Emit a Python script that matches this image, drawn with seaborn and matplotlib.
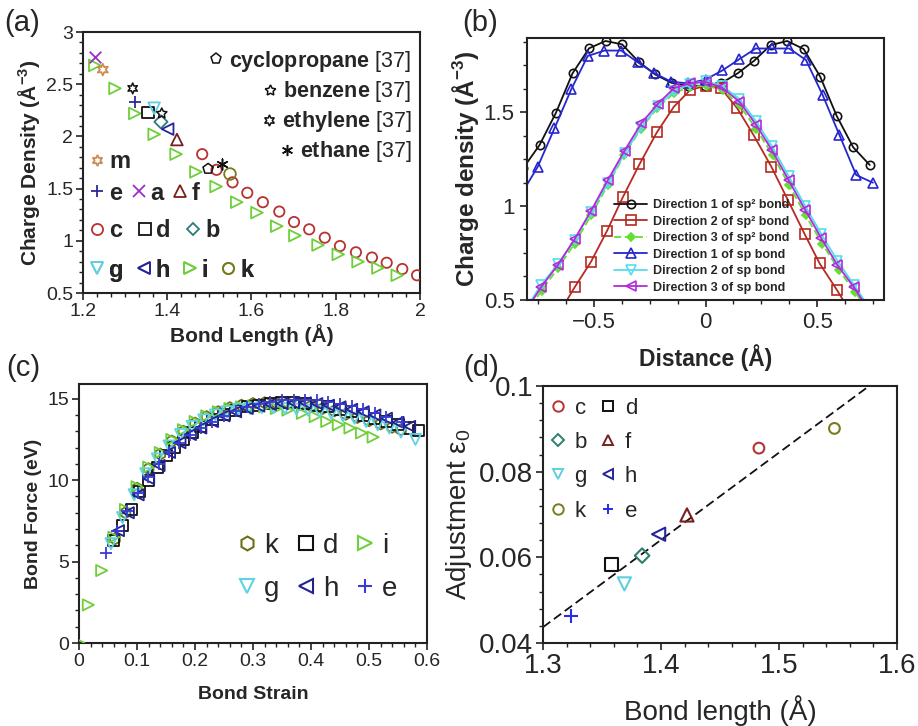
import numpy as np
import matplotlib
matplotlib.use("Agg")
import matplotlib.pyplot as plt
import seaborn as sns
from matplotlib.lines import Line2D
from matplotlib.markers import MarkerStyle
from matplotlib.ticker import MultipleLocator, FuncFormatter

sns.set_style("ticks")
plt.rcParams['font.family'] = ['Liberation Sans', 'DejaVu Sans']
plt.rcParams['mathtext.fontset'] = 'custom'
plt.rcParams['mathtext.rm'] = 'Liberation Sans'
plt.rcParams['mathtext.it'] = 'Liberation Sans:italic'
plt.rcParams['mathtext.bf'] = 'Liberation Sans:bold'
plt.rcParams['mathtext.default'] = 'regular'

# ---------------- data: panel (a) ----------------
i_len = [1.228, 1.276, 1.323, 1.369, 1.421, 1.468, 1.516, 1.565, 1.613, 1.660,
         1.703, 1.758, 1.806, 1.853, 1.900, 1.946]
i_rho = [2.68, 2.46, 2.22, 2.02, 1.83, 1.66, 1.52, 1.37, 1.27, 1.14,
         1.05, 0.96, 0.87, 0.80, 0.74, 0.67]
c_len = [1.483, 1.517, 1.555, 1.590, 1.627, 1.666, 1.701, 1.737, 1.774, 1.810,
         1.848, 1.886, 1.921, 1.958, 1.993]
c_rho = [1.83, 1.68, 1.56, 1.46, 1.37, 1.28, 1.18, 1.11, 1.03, 0.95,
         0.89, 0.84, 0.79, 0.73, 0.67]
single_names = ['a', 'm', 'e', 'd', 'g', 'b', 'h', 'f', 'k']
single_len = [1.228, 1.247, 1.323, 1.355, 1.369, 1.385, 1.401, 1.423, 1.549]
single_rho = [2.76, 2.64, 2.33, 2.23, 2.27, 2.14, 2.07, 1.97, 1.64]
ref_names = ['cyclopropane', 'benzene', 'ethylene', 'ethane']
ref_len = [1.497, 1.387, 1.318, 1.530]
ref_rho = [1.69, 2.22, 2.46, 1.74]

# ---------------- data: panel (b) ----------------
sp2_d1_x = [-0.818, -0.744, -0.670, -0.596, -0.522, -0.448, -0.374, -0.300, -0.226, -0.152, -0.078,
            -0.004, 0.070, 0.144, 0.218, 0.292, 0.366, 0.440, 0.514, 0.588, 0.662, 0.736]
sp2_d1_y = [1.20, 1.324, 1.497, 1.706, 1.839, 1.878, 1.860, 1.768, 1.700, 1.655, 1.640,
            1.640, 1.653, 1.706, 1.773, 1.856, 1.878, 1.835, 1.688, 1.479, 1.312, 1.218]
sp2_d2_x = [-0.661, -0.587, -0.513, -0.441, -0.371, -0.296, -0.218, -0.142, -0.069, 0.000,
            0.070, 0.142, 0.215, 0.295, 0.369, 0.444, 0.511, 0.589, 0.663]
sp2_d2_y = [0.42, 0.567, 0.704, 0.869, 1.046, 1.222, 1.392, 1.528, 1.617, 1.640,
            1.626, 1.520, 1.378, 1.209, 1.032, 0.851, 0.695, 0.553, 0.41]
sp2_d3_x = [-0.809, -0.735, -0.661, -0.587, -0.513, -0.439, -0.365, -0.291, -0.217, -0.143, -0.069,
            0.005, 0.079, 0.153, 0.227, 0.301, 0.375, 0.449, 0.523, 0.597, 0.671, 0.745]
sp2_d3_y = [0.42, 0.55, 0.67, 0.80, 0.95, 1.11, 1.27, 1.41, 1.52, 1.60, 1.635,
            1.64, 1.615, 1.535, 1.41, 1.27, 1.11, 0.95, 0.80, 0.66, 0.54, 0.42]
sp_d1_x = [-0.827, -0.752, -0.677, -0.602, -0.528, -0.453, -0.378, -0.303, -0.229, -0.154, -0.077,
           0.000, 0.075, 0.150, 0.225, 0.300, 0.375, 0.450, 0.525, 0.600, 0.675, 0.750]
sp_d1_y = [1.06, 1.209, 1.413, 1.620, 1.798, 1.827, 1.827, 1.764, 1.706, 1.662, 1.652,
           1.673, 1.721, 1.780, 1.838, 1.838, 1.838, 1.777, 1.590, 1.378, 1.165, 1.124]
sp_d2_x = [-0.812, -0.737, -0.662, -0.587, -0.513, -0.438, -0.363, -0.288, -0.214, -0.142, -0.070,
           0.000, 0.073, 0.152, 0.227, 0.297, 0.372, 0.447, 0.519, 0.591, 0.665, 0.740]
sp_d2_y = [0.44, 0.58, 0.69, 0.82, 0.97, 1.12, 1.28, 1.42, 1.53, 1.61, 1.65,
           1.665, 1.64, 1.57, 1.45, 1.32, 1.16, 1.00, 0.85, 0.71, 0.58, 0.45]
sp_d3_x = [-0.812, -0.737, -0.662, -0.587, -0.513, -0.438, -0.363, -0.288, -0.214, -0.142, -0.070,
           0.000, 0.073, 0.152, 0.227, 0.297, 0.372, 0.447, 0.519, 0.591, 0.665, 0.740]
sp_d3_y = [0.43, 0.568, 0.686, 0.823, 0.975, 1.138, 1.294, 1.440, 1.543, 1.626, 1.653,
           1.660, 1.631, 1.555, 1.431, 1.298, 1.138, 0.979, 0.828, 0.686, 0.568, 0.43]
b_labels = ['Direction 1 of sp\u00b2 bond', 'Direction 2 of sp\u00b2 bond', 'Direction 3 of sp\u00b2 bond',
            'Direction 1 of sp bond', 'Direction 2 of sp bond', 'Direction 3 of sp bond']

# ---------------- data: panel (c) ----------------
k_s = [0.062, 0.08, 0.10, 0.12, 0.14, 0.16, 0.18, 0.20, 0.22, 0.24, 0.26, 0.28, 0.30, 0.32, 0.34,
       0.36, 0.38, 0.40, 0.42, 0.44, 0.46, 0.48, 0.50, 0.52, 0.54, 0.555]
k_F = [6.4, 8.0, 9.5, 10.7, 11.6, 12.4, 13.0, 13.5, 13.9, 14.2, 14.45, 14.6, 14.7, 14.75, 14.75,
       14.7, 14.65, 14.55, 14.4, 14.25, 14.05, 13.85, 13.65, 13.45, 13.25, 13.1]
d_s = [0.060, 0.075, 0.090, 0.105, 0.120, 0.135, 0.150, 0.165, 0.180, 0.195, 0.210, 0.230, 0.250,
       0.270, 0.290, 0.310, 0.330, 0.350, 0.370, 0.390, 0.410, 0.430, 0.450, 0.470, 0.490, 0.510,
       0.530, 0.550, 0.570, 0.585]
d_F = [6.3, 7.2, 8.2, 9.3, 10.0, 10.8, 11.5, 12.0, 12.5, 12.9, 13.3, 13.7, 14.05,
       14.3, 14.5, 14.6, 14.7, 14.75, 14.75, 14.7, 14.6, 14.5, 14.35, 14.2, 14.0, 13.8,
       13.6, 13.4, 13.2, 13.05]
i_s = [0.0, 0.016, 0.039, 0.06, 0.08, 0.10, 0.12, 0.14, 0.16, 0.18, 0.20, 0.22, 0.24, 0.26, 0.28,
       0.30, 0.32, 0.34, 0.36, 0.385, 0.407, 0.427, 0.447, 0.467, 0.487, 0.507]
i_F = [0.0, 2.34, 4.45, 6.5, 8.2, 9.6, 10.8, 11.7, 12.5, 13.1, 13.6, 13.95, 14.2, 14.4, 14.5,
       14.55, 14.5, 14.4, 14.3, 14.1, 13.9, 13.6, 13.4, 13.2, 12.9, 12.64]
g_s = [0.055, 0.075, 0.095, 0.115, 0.135, 0.155, 0.175, 0.195, 0.215, 0.235, 0.255, 0.275, 0.295,
       0.315, 0.335, 0.355, 0.375, 0.395, 0.415, 0.435, 0.455, 0.475, 0.495, 0.515, 0.535, 0.555, 0.58]
g_F = [6.1, 7.7, 9.1, 10.4, 11.3, 12.1, 12.8, 13.3, 13.7, 14.0, 14.2, 14.35, 14.4,
       14.45, 14.45, 14.4, 14.35, 14.3, 14.2, 14.1, 13.95, 13.8, 13.6, 13.4, 13.2, 12.95, 12.5]
h_s = [0.068, 0.085, 0.102, 0.12, 0.138, 0.156, 0.174, 0.192, 0.21, 0.23, 0.25, 0.27, 0.29, 0.31,
       0.33, 0.35, 0.37, 0.39, 0.41, 0.43, 0.45, 0.47, 0.49, 0.51, 0.53, 0.55, 0.57]
h_F = [6.9, 8.0, 9.1, 10.1, 10.9, 11.7, 12.3, 12.8, 13.2, 13.6, 13.95, 14.2, 14.4, 14.55,
       14.65, 14.7, 14.75, 14.75, 14.7, 14.6, 14.5, 14.35, 14.2, 14.0, 13.8, 13.55, 13.3]
e_s = [0.047, 0.065, 0.083, 0.101, 0.119, 0.137, 0.155, 0.173, 0.191, 0.21, 0.23, 0.25, 0.27, 0.29,
       0.31, 0.33, 0.35, 0.37, 0.39, 0.41, 0.43, 0.45, 0.47, 0.49, 0.51, 0.53, 0.556]
e_F = [5.5, 6.9, 8.1, 9.2, 10.2, 11.0, 11.7, 12.3, 12.8, 13.2, 13.6, 13.95, 14.25, 14.5,
       14.65, 14.8, 14.9, 14.95, 14.95, 14.9, 14.8, 14.7, 14.55, 14.35, 14.15, 13.9, 13.6]

# ---------------- data: panel (d) ----------------
adj_names = ['c', 'd', 'b', 'f', 'g', 'h', 'k', 'e']
adj_len = [1.483, 1.358, 1.384, 1.422, 1.369, 1.398, 1.547, 1.324]
adj_eps = [0.0855, 0.0584, 0.0604, 0.0699, 0.0538, 0.0654, 0.0901, 0.0464]

# ---------------- styles ----------------
COL = {'a': '#9b2fcc', 'm': '#d08c50', 'c': '#b83232', 'd': '#111111', 'b': '#2f7a7a',
       'e': '#2a2a9a', 'f': '#7a1f1f', 'g': '#5fcfe0', 'h': '#26269c', 'i': '#6fcf3a',
       'k': '#7b7b1e'}
MK = {'a': 'x', 'm': (6, 1, 0), 'c': 'o', 'd': 's', 'b': 'D', 'e': '+', 'f': '^',
      'g': 'v', 'h': '<', 'i': '>', 'k': 'o'}
REF_MK = {'cyclopropane': 'p', 'benzene': (5, 1, 0), 'ethylene': (6, 1, 0), 'ethane': (6, 2, 0)}


def pts(ax, x, y, marker, color, s=50, lw=1.3, z=3):
    if MarkerStyle(marker).is_filled():
        sns.scatterplot(x=x, y=y, ax=ax, marker=marker, s=s, facecolor='none',
                        edgecolor=color, linewidth=lw, zorder=z, legend=False)
    else:
        sns.scatterplot(x=x, y=y, ax=ax, marker=marker, s=s, color=color,
                        linewidth=lw, zorder=z, legend=False)


def handle(marker, color, ms=7, mew=1.3):
    if MarkerStyle(marker).is_filled():
        return Line2D([], [], ls='', marker=marker, ms=ms, mfc='none', mec=color, mew=mew)
    return Line2D([], [], ls='', marker=marker, ms=ms, color=color, mew=mew)


def fmt(v, pos):
    s = f"{v:.4g}"
    return s.replace('-', '\u2212')


def style(ax, labelsize, xmaj, xmin, ymaj, ymin, pad=2):
    for sp in ax.spines.values():
        sp.set_linewidth(1.5)
        sp.set_color('#222222')
    ax.xaxis.set_major_locator(MultipleLocator(xmaj))
    ax.xaxis.set_minor_locator(MultipleLocator(xmin))
    ax.yaxis.set_major_locator(MultipleLocator(ymaj))
    ax.yaxis.set_minor_locator(MultipleLocator(ymin))
    ax.xaxis.set_major_formatter(FuncFormatter(fmt))
    ax.yaxis.set_major_formatter(FuncFormatter(fmt))
    ax.tick_params(which='major', direction='out', length=5, width=1.2,
                   labelsize=labelsize, color='#222222', pad=pad)
    ax.tick_params(which='minor', direction='out', length=3, width=1.0, color='#222222')


fig = plt.figure(figsize=(9.18, 7.26), dpi=100)
axA = fig.add_axes([0.0904, 0.5964, 0.3671, 0.3595])
axB = fig.add_axes([0.5741, 0.5868, 0.3889, 0.3609])
axC = fig.add_axes([0.0861, 0.1143, 0.3791, 0.3567])
axD = fig.add_axes([0.5915, 0.1143, 0.3856, 0.3540])

# ================= panel (a) =================
ax = axA
pts(ax, c_len, c_rho, 'o', COL['c'], s=55)
pts(ax, i_len, i_rho, '>', COL['i'], s=70)
for n, x, y in zip(single_names, single_len, single_rho):
    pts(ax, [x], [y], MK[n], COL[n], s=70 if n != 'b' else 45)
for n, x, y in zip(ref_names, ref_len, ref_rho):
    pts(ax, [x], [y], REF_MK[n], '#111111', s=60, lw=1.1)
ax.set_xlim(1.2, 2.0)
ax.set_ylim(0.5, 3.0)
style(ax, 14, 0.2, 0.2 / 6, 0.5, 0.1)
ax.set_xlabel('Bond Length (Å)', fontsize=15, fontweight='bold', labelpad=3)
ax.set_ylabel('Charge Density (Å$^{-3}$)', fontsize=15, fontweight='bold', labelpad=3)

ref_handles = [handle(REF_MK[n], '#111111', ms=8, mew=1.1) for n in ref_names]
ref_labels = [n + r' $\mathrm{[37]}$' for n in ref_names]
leg = ax.legend(ref_handles, ref_labels, loc='upper right', bbox_to_anchor=(1.0, 0.968),
                frameon=False, prop={'weight': 'bold', 'size': 15.5}, handlelength=0.6,
                handletextpad=0.3, labelspacing=0.24, borderaxespad=0.2, borderpad=0.2)
for col in leg._legend_handle_box.get_children():
    col.align = 'right'
ax.add_artist(leg)

rows = [(['m'], 0.502, 0.4), (['e', 'a', 'f'], 0.383, 0.35),
        (['c', 'd', 'b'], 0.238, 0.6), (['g', 'h', 'i', 'k'], 0.088, 0.5)]
for names, yy, cs in rows:
    hs = [handle(MK[n], COL[n], ms=8 if n != 'b' else 6.5, mew=1.3) for n in names]
    lg = ax.legend(hs, names, loc='center left', bbox_to_anchor=(0.018, yy), ncol=len(names),
                   frameon=False, prop={'weight': 'bold', 'size': 17}, handlelength=0.7,
                   handletextpad=0.15, columnspacing=cs, borderaxespad=0, borderpad=0)
    ax.add_artist(lg)

# ================= panel (b) =================
ax = axB
b_series = [
    (sp2_d1_x, sp2_d1_y, '#111111', 'o', '-', 6.0, 'none'),
    (sp2_d2_x, sp2_d2_y, '#b52a22', 's', '-', 7.5, 'none'),
    (sp2_d3_x, sp2_d3_y, '#66dd33', 'D', (0, (4, 2)), 4.5, '#66dd33'),
    (sp_d1_x, sp_d1_y, '#2626d0', '^', '-', 7.5, 'none'),
    (sp_d2_x, sp_d2_y, '#55ddee', 'v', '-', 7.5, 'none'),
    (sp_d3_x, sp_d3_y, '#b42ad8', '<', '-', 7.5, 'none'),
]
for (xs, ys, c, m, ls, ms, mfc), lab in zip(b_series, b_labels):
    sns.lineplot(x=xs, y=ys, ax=ax, sort=False, estimator=None, color=c, lw=1.3,
                 linestyle=ls, marker=m, ms=ms, mfc=mfc, mec=c, mew=1.2, label=lab)
ax.set_xlim(-0.8, 0.8)
ax.set_ylim(0.5, 1.894)
style(ax, 16, 0.5, 0.125, 0.5, 0.125, pad=4)
ax.set_xlabel('Distance (Å)', fontsize=16.5, fontweight='bold', labelpad=8)
ax.set_ylabel('Charge density (Å$^{-3}$)', fontsize=17.5, fontweight='bold', labelpad=2)
ax.legend(loc='lower center', bbox_to_anchor=(0.49, 0.015), frameon=False,
          prop={'weight': 'bold', 'size': 9}, handlelength=2.6, handletextpad=0.5,
          labelspacing=0.36, borderaxespad=0, borderpad=0.2)

# ================= panel (c) =================
ax = axC
c_series = [('k', k_s, k_F, 'h', '#6f6f1a'), ('d', d_s, d_F, 's', '#111111'),
            ('i', i_s, i_F, '>', '#6fcf3a'), ('g', g_s, g_F, 'v', '#5fd3e3'),
            ('h', h_s, h_F, '<', '#22228f'), ('e', e_s, e_F, '+', '#3a3ad6')]
for n, xs, ys, m, c in c_series:
    pts(ax, xs, ys, m, c, s=64, lw=1.3)
ax.set_xlim(0, 0.6)
ax.set_ylim(0, 15.9)
style(ax, 14, 0.1, 0.02, 5, 1)
ax.set_xlabel('Bond Strain', fontsize=14, fontweight='bold', labelpad=12)
ax.set_ylabel('Bond Force (eV)', fontsize=14, fontweight='bold', labelpad=4)
cmap = {n: (m, c) for n, xs, ys, m, c in c_series}
order = ['k', 'g', 'd', 'h', 'i', 'e']
hs = [handle(cmap[n][0], cmap[n][1], ms=10, mew=1.5) for n in order]
ax.legend(hs, order, loc='upper left', bbox_to_anchor=(0.455, 0.425), ncol=3, frameon=False,
          prop={'size': 20}, handlelength=0.7, handletextpad=0.27, columnspacing=0.6,
          labelspacing=0.6, borderaxespad=0, borderpad=0)

# ================= panel (d) =================
ax = axD
ax.set_xlim(1.3, 1.6)
ax.set_ylim(0.04, 0.1)
dcol = dict(COL)
dcol['e'] = '#2b2be8'
dcol['b'] = '#2f7f6f'
dmk = dict(MK)
dsize = {'c': 60, 'k': 60, 'b': 55, 'e': 90, 'd': 90, 'f': 90, 'g': 90, 'h': 90}
for n, x, y in zip(adj_names, adj_len, adj_eps):
    pts(ax, [x], [y], dmk[n], dcol[n], s=dsize[n], lw=1.5)
sns.regplot(x=adj_len, y=adj_eps, ax=ax, scatter=False, ci=None, truncate=False,
            line_kws=dict(color='#111111', lw=1.3, ls=(0, (5, 2.5))))
ax.set_xlim(1.3, 1.6)
ax.set_ylim(0.04, 0.1)
style(ax, 20, 0.1, 0.02, 0.02, 0.004)
ax.set_xlabel('Bond length (Å)', fontsize=20, labelpad=12)
ax.set_ylabel('Adjustment ε$_0$', fontsize=20, labelpad=4)
order = ['c', 'b', 'g', 'k', 'd', 'f', 'h', 'e']
hs = [handle(dmk[n], dcol[n], ms=7.5 if n not in ('b',) else 6.5, mew=1.4) for n in order]
ax.legend(hs, order, loc='upper left', bbox_to_anchor=(0.02, 0.955), ncol=2, frameon=False,
          prop={'size': 16}, handlelength=0.7, handletextpad=0.4, columnspacing=0.6,
          labelspacing=0.6, borderaxespad=0, borderpad=0)

# panel letters
fig.text(0.005, 0.988, '(a)', fontsize=21, va='top', ha='left')
fig.text(0.503, 0.988, '(b)', fontsize=21, va='top', ha='left')
fig.text(0.007, 0.513, '(c)', fontsize=21, va='top', ha='left')
fig.text(0.505, 0.513, '(d)', fontsize=21, va='top', ha='left')

fig.savefig('out.png', dpi=100)
